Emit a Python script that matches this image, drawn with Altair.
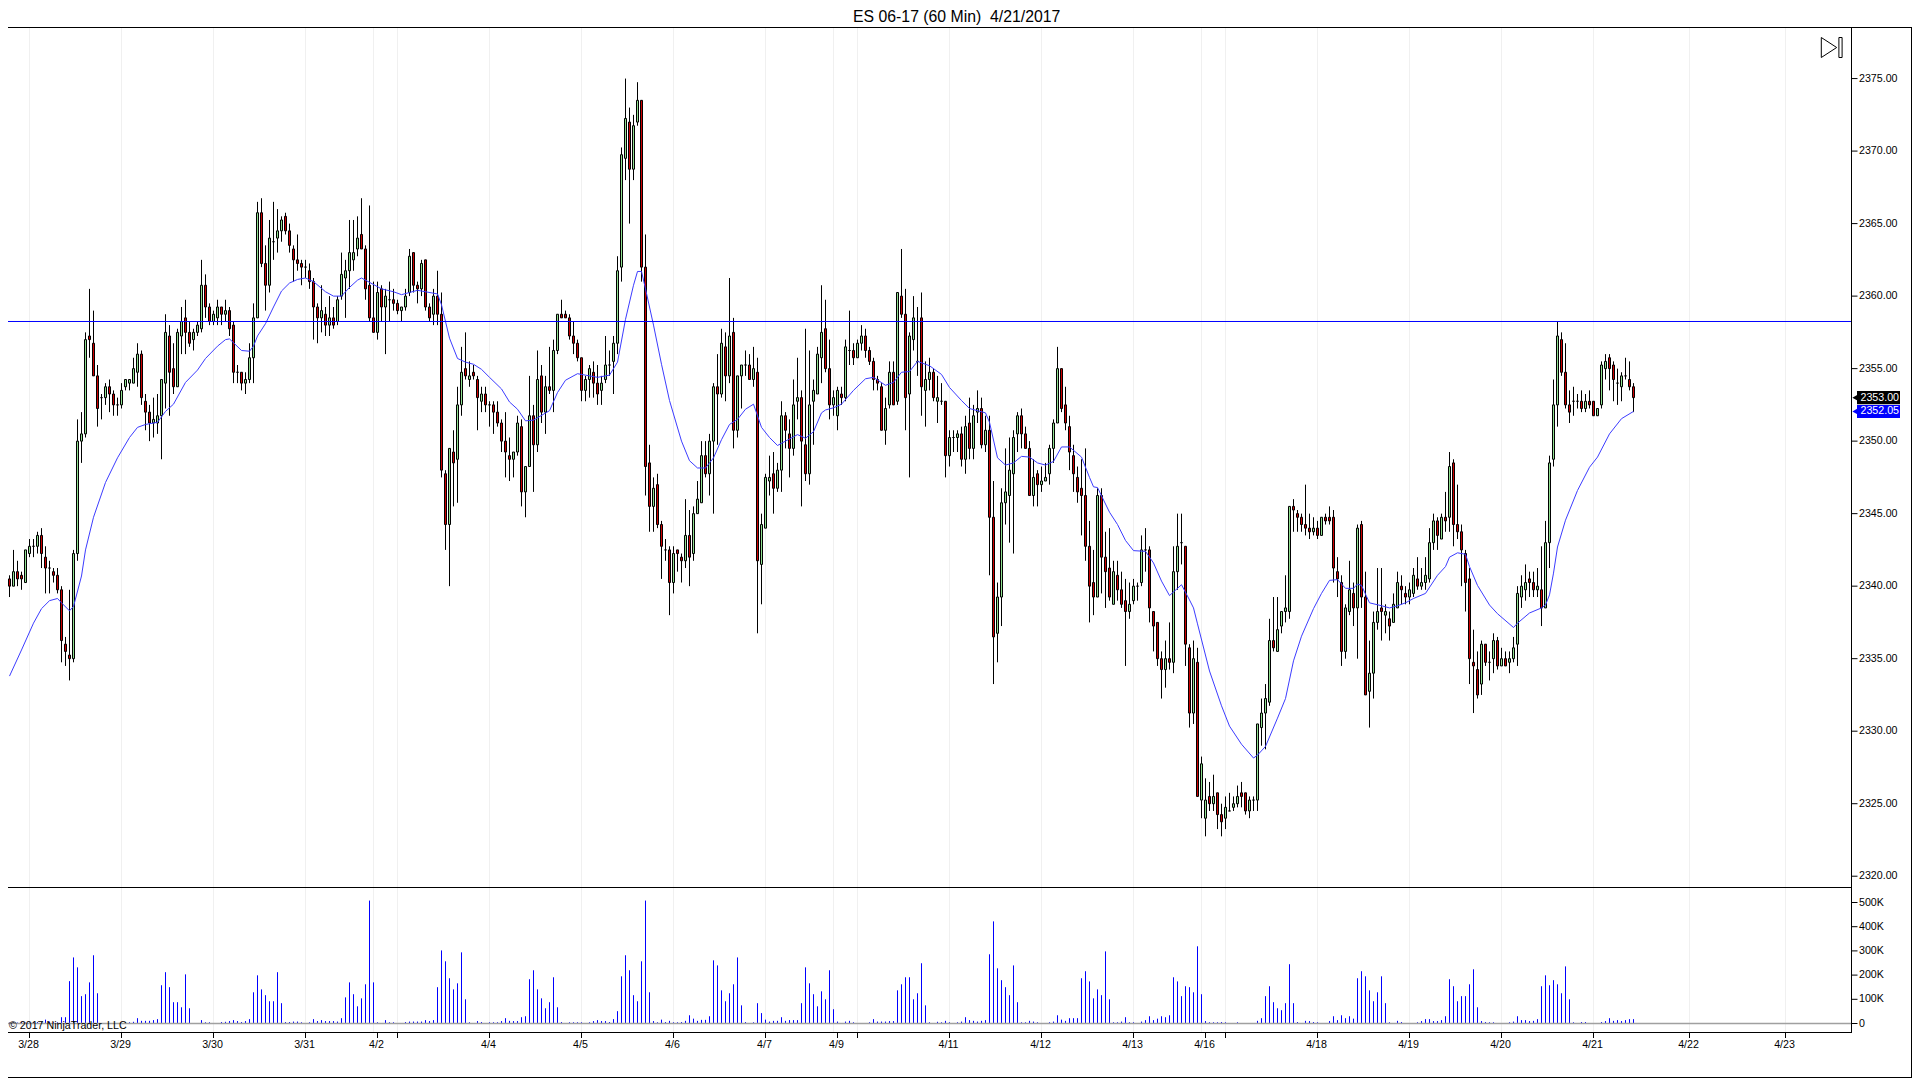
import altair as alt
import pandas as pd

title_text = "ES 06-17 (60 Min)\u00a0\u00a04/21/2017"
copyright_text = "\u00a9 2017 NinjaTrader, LLC"
level_line = [2358.25]
last_close = 2353.00
last_ma = 2352.05

highs = [
2340.75,2342.5,2341.75,2341,2342.5,2343.25,2343.25,2343.75,2344,2342.75,
2341.75,2341.25,2341.25,2340,2336.5,2339.75,2342.5,2351.5,2352,2357.5,
2360.5,2359,2355.25,2353.25,2354,2354.25,2353.5,2353,2354,2354.25,
2354.25,2355.75,2356.75,2356.25,2353.25,2352.5,2353,2353.25,2354.25,2358.75,
2358,2356.75,2357.75,2359.25,2359.75,2358.25,2357.75,2358.25,2362.5,2361.5,
2359.5,2359,2359.75,2359.25,2359.75,2359.25,2358.25,2355.25,2354.75,2354.75,
2356.75,2359.5,2366.5,2366.75,2363.5,2365.25,2366.5,2366,2365.5,2365.75,
2365,2363.5,2364.25,2362.5,2362.5,2362.25,2361.25,2359.5,2360.75,2359.25,
2360,2359.25,2360,2363,2362.5,2365.25,2365.25,2365.5,2366.75,2363.5,
2366.25,2361,2361,2360.75,2360.5,2361,2360.5,2359.75,2359.25,2360.5,
2363.25,2363,2361,2362.5,2362.5,2359.5,2360.5,2361.75,2360.25,2348,
2349.5,2350.75,2353.75,2356.5,2357.5,2355.5,2355.25,2354.5,2353.75,2353.75,
2352.75,2352.75,2352.75,2351.5,2352,2350.25,2349.25,2351.75,2351.5,2348.25,
2354.5,2352.5,2356.25,2355.25,2354.5,2356.5,2357,2358.75,2359.75,2359,
2358.75,2358.25,2357,2355.75,2354.5,2355.25,2355.5,2355.25,2354.5,2357.25,
2356.25,2357.25,2362.75,2370.25,2375,2373,2372.5,2374.75,2373.5,2364.25,
2349.75,2347.5,2347.75,2344.5,2343.25,2342.75,2342.75,2342.5,2342.25,2346,
2345.25,2345.5,2347.25,2350,2350,2350.5,2354,2356,2357.75,2357.5,
2361.25,2358.5,2354.5,2355.25,2356.25,2356,2356.5,2355.75,2345,2347.75,
2349,2349.25,2348.5,2352.75,2352,2351.5,2354.25,2355.75,2353.5,2357.75,
2356.25,2354.25,2356.5,2360.75,2359.75,2357,2353.5,2353.75,2353.75,2357,
2359,2356.75,2357,2358,2357.75,2356.5,2355.75,2354.5,2354,2353,
2355.5,2355.5,2360.25,2363.25,2360.5,2357.5,2360,2359.25,2360.25,2355.5,
2355.75,2355,2354.5,2354,2352.75,2350.75,2350.75,2350.75,2351,2351.75,
2353,2352.5,2353.5,2353,2351.75,2351.75,2347.25,2340.25,2346.75,2349.5,
2350.25,2350.75,2352,2352.25,2351,2350,2348.75,2348,2348.25,2348.5,
2349.75,2351.5,2356.5,2355,2353.75,2351.75,2349.75,2348.25,2348.75,2349.5,
2344.5,2342.5,2346.75,2346.75,2343.75,2344,2341.75,2341.75,2341,2340.5,
2340.25,2340.5,2340.25,2343.5,2344,2342.75,2338.25,2337.5,2335.5,2336.25,
2337.5,2342.75,2345,2345,2342.75,2336,2336.25,2335.75,2328.25,2326.75,
2326.5,2327,2325.75,2325,2325.5,2325.75,2325.5,2326.25,2326.5,2325.75,
2325.5,2325.5,2330.5,2332.25,2333.25,2337.75,2339.25,2339.25,2338.25,2340.75,
2345.5,2346,2345.25,2345,2347,2345,2344.75,2344.5,2344.75,2345,
2345.5,2345.25,2342,2340.75,2338.75,2341.75,2340.25,2344.25,2344.5,2341,
2336.25,2338.25,2341.25,2341.25,2338.75,2338.25,2339.5,2341,2340.75,2340,
2340.25,2341.25,2342,2341.25,2342,2344,2345,2344.75,2345,2346.5,
2349.25,2348.75,2347,2344.25,2342.5,2341.25,2337,2335.5,2336.25,2336,
2335.5,2336.75,2336.5,2335.75,2335.5,2335.5,2336.5,2340,2340.75,2341.5,
2341,2341,2341.25,2342.75,2344.5,2349,2354.25,2358.25,2357.5,2356.75,
2353.5,2353.75,2353.25,2353.5,2353.25,2353.5,2352.75,2352.25,2355.5,2356,
2356,2355.5,2355,2354.75,2355.75,2355.5,2354]

body_tops = [
2340.5,2341,2341,2340.75,2342.5,2342.75,2342.75,2343.5,2343.5,2342,
2341.25,2341,2340.75,2339.75,2336,2335.25,2342.25,2350,2350.5,2357,
2357.25,2356.75,2354.5,2353,2353.75,2353.75,2353.25,2352.5,2353.5,2354.25,
2354.25,2355,2356,2356,2352.75,2352,2351.5,2351.75,2354.25,2357.5,
2357.25,2355,2357.5,2358.25,2358.5,2357.5,2357.5,2358,2360.75,2360.75,
2359.25,2358.75,2359.25,2359.25,2359,2359,2358,2354.75,2354.75,2354.25,
2355.75,2358.5,2365.75,2365.75,2362.25,2364,2363.75,2364.5,2365.25,2365.5,
2364.5,2363.25,2362.5,2362.25,2362,2361.75,2361,2359.25,2359,2358.75,
2358.5,2358.5,2359.75,2361.5,2361.75,2363,2363,2364,2364.25,2363.25,
2360.75,2358.5,2360.25,2360.5,2360,2359.75,2359.75,2359.5,2359.25,2360,
2362.75,2363,2360.75,2362.25,2362.5,2359.25,2360,2360,2358.75,2347.75,
2349.5,2349.25,2352.5,2354.75,2355,2354.5,2354.75,2354.25,2353.25,2353.25,
2352.5,2352.5,2352,2351.25,2350,2349,2349.25,2351.25,2351,2348.25,
2351.75,2351.75,2354.25,2354.5,2353.75,2353.75,2356.25,2358.75,2358.75,2358.75,
2358.5,2357.25,2356.75,2355.75,2354.25,2355,2354.75,2354,2354,2355.25,
2355.25,2356.75,2361.75,2369.75,2372.25,2372,2371.75,2373.5,2373.5,2362,
2348.5,2346.75,2347,2344.25,2342.5,2342.5,2342.25,2342.5,2342,2343.5,
2343.5,2345,2346,2349,2349,2350,2353.75,2353.75,2356.75,2356.5,
2357.25,2357.5,2354.5,2355.25,2355.25,2355.25,2355,2354.75,2344.25,2347.5,
2347.5,2347.75,2348,2351.75,2351.75,2350.5,2352.5,2353,2353,2349.75,
2352.5,2353.5,2356,2357.5,2357.75,2355,2353,2353.5,2353.25,2356.5,
2356.25,2356.25,2356.75,2357.25,2357.25,2356.25,2355.5,2354.25,2353.75,2352.25,
2354.75,2354.75,2360.25,2360,2358.75,2357.25,2358.5,2355.5,2358.5,2354.25,
2354.75,2354.75,2353,2352.75,2352.75,2350.25,2350.25,2350.5,2350.5,2351,
2351.25,2351.75,2352.25,2352.25,2350.75,2350.75,2344.75,2339.25,2345.75,2346.5,
2348,2350.25,2351.75,2351.75,2350.5,2349.5,2347.5,2347.75,2347.25,2347.5,
2349.5,2351.25,2355,2355,2352.5,2351,2349,2347.5,2346.75,2346.25,
2342.75,2340.25,2346.25,2346.25,2342,2341.25,2341,2340.75,2339.75,2339,
2338.75,2340,2340,2342.5,2342.5,2342.5,2338.25,2337.5,2335,2335,
2335,2341,2342.75,2343,2342.75,2335.75,2335,2334.75,2327.75,2325.25,
2325.5,2325.5,2325.75,2324.25,2324.75,2324.5,2325,2325.5,2325.75,2325.75,
2325.25,2325.25,2330.5,2331.25,2332.25,2336.25,2336.25,2337,2338.25,2338.5,
2345.5,2345.5,2345,2344.75,2344.25,2344,2344,2344,2344.75,2344.75,
2344.75,2344.75,2341,2340.25,2338.5,2339.75,2339.5,2344,2344.25,2339.25,
2334,2337.5,2338.25,2338.5,2338.25,2337.75,2338.75,2340.25,2340,2339.5,
2339.75,2340.75,2340.5,2340.25,2340.75,2343,2344.5,2344.5,2344.75,2344.75,
2348.25,2348.5,2344.25,2343.75,2342.25,2340.5,2334.75,2334.25,2336,2336,
2334.75,2336.25,2336.25,2335,2335,2335,2335.75,2339.5,2340,2340.25,
2340.5,2340.25,2340,2339.75,2343,2348.5,2352.5,2357.25,2357,2354.75,
2352.5,2352.75,2352.75,2352.75,2352.75,2352.75,2352.75,2352.25,2355.25,2355.5,
2355.75,2355.25,2354,2354.5,2354.5,2354.25,2353.75]

body_bottoms = [
2340,2340,2340.5,2340.5,2340.25,2342.25,2342.75,2342.75,2342.25,2341.25,
2341.25,2340.75,2339.75,2336.25,2335.5,2335,2335,2342.25,2350,2350.5,
2357,2354.5,2352.25,2353,2353,2353.25,2352.5,2352.5,2352.5,2353.75,
2354,2354,2354.75,2353,2352,2351.25,2351.25,2351.25,2351.75,2354,
2354.75,2353.75,2353.75,2357.25,2357.5,2356.75,2357,2357.5,2357.75,2359.25,
2358.25,2358.25,2358.5,2358.75,2358.75,2357.75,2354.75,2354.75,2354,2354,
2354.25,2355.75,2358.5,2362.25,2360.75,2360.75,2363.75,2364,2364.5,2364.5,
2363.5,2362.5,2362.25,2362,2362,2361,2359.25,2358.5,2358.5,2358,
2358,2358,2358.25,2360,2361.25,2361.75,2362.5,2363.25,2363.25,2360.5,
2358.5,2357.5,2357.5,2359.25,2359.25,2359.75,2359.5,2359,2359,2359.25,
2360.25,2360.75,2360.5,2360.5,2359.25,2358.5,2358.75,2358.75,2348,2344.25,
2344.25,2348.5,2348.75,2352.5,2354.5,2354.25,2354.5,2353,2352.75,2352.5,
2352.5,2352,2351.25,2350,2349.25,2348.75,2348.75,2349.25,2346.5,2346.5,
2348.25,2349.75,2349.75,2352,2352,2353.5,2353.5,2356.25,2358.5,2358.5,
2357.25,2356.75,2355.75,2353.5,2353.5,2354.25,2354,2353.25,2353.5,2354.25,
2355.25,2355.5,2356.75,2362,2369.5,2368.75,2368.75,2372,2362,2348.25,
2345.5,2345.5,2344.25,2342.75,2342.5,2340.25,2340.25,2342.25,2341.75,2341.75,
2342,2342.25,2345,2345.75,2347.75,2347.75,2350,2353.25,2353.25,2354.5,
2354.5,2350.75,2350.75,2354.5,2355.25,2354.25,2354.25,2341.75,2341.5,2344,
2347.25,2346.75,2346.75,2348,2350.75,2349.5,2349.5,2352.75,2350,2347.75,
2347.75,2352.75,2353.25,2355.75,2355,2352.5,2352.5,2351.75,2353,2353,
2356.25,2355.75,2355.75,2356.75,2356.25,2355.5,2354.25,2354,2350.75,2350.75,
2352.5,2352.5,2352.75,2358.75,2353,2353.25,2357,2355.5,2353.75,2353.5,
2354.25,2353,2352.75,2352.75,2349,2349,2350.25,2350.25,2348.75,2348.75,
2349.5,2349.5,2352,2349.75,2349.75,2344.75,2336.5,2336.75,2339.25,2345.75,
2346.25,2347.75,2350.5,2350.5,2349.5,2346.25,2346.25,2347,2347,2347.25,
2347.75,2349.5,2351.25,2352.25,2351.25,2349.25,2347.75,2346.5,2346.25,2342.75,
2340,2339.25,2339.25,2342,2341,2339.25,2338.75,2339.75,2338.75,2338.25,
2338.25,2339,2340,2340.25,2342.5,2338.5,2337.25,2335,2334.25,2334.25,
2334.75,2334.75,2341,2343,2336,2331.25,2331.25,2325.5,2325.25,2324,
2325,2325,2324.25,2323.75,2324,2324.5,2324.75,2325,2325.5,2324.5,
2324.5,2325.25,2325.25,2330.25,2331.25,2332,2335.75,2335.5,2337.25,2338.25,
2338.25,2345.25,2344.75,2344.25,2344,2343.75,2343.75,2343.5,2343.5,2344.5,
2344.5,2341.25,2340.5,2335.5,2335.5,2338.25,2338.5,2338.5,2339.25,2332.5,
2332.75,2334,2337.5,2338.25,2338,2337.25,2337.5,2338.5,2339.75,2339.25,
2339.25,2339.5,2340,2340,2340.25,2340.5,2343,2343.5,2343.25,2344.5,
2344.75,2344.25,2343.75,2342.5,2340.25,2335,2334.5,2332.5,2333.25,2334.75,
2334.75,2335,2334.5,2334.5,2334.5,2334.75,2335,2336,2339.25,2339.75,
2340.25,2339.75,2339.75,2338.5,2338.5,2343,2348.75,2352.5,2354.75,2352.5,
2352,2352.75,2352.75,2352.25,2352.25,2352.5,2351.75,2351.75,2352.5,2355,
2355,2354.25,2354,2353.75,2354.5,2353.75,2353]

lows = [
2339.25,2340,2340,2339.75,2340.25,2342,2342,2342.25,2341.25,2339.5,
2339.5,2340.25,2339.5,2334.75,2334.5,2333.5,2334.75,2341.75,2348.5,2350.25,
2355.75,2354.5,2351,2351.5,2352.5,2352,2351.75,2351.75,2352.25,2353.5,
2353.5,2354,2353.75,2352.5,2350.75,2350,2350.25,2350.5,2348.75,2352.25,
2351.75,2353.25,2353.75,2356,2356,2356.5,2356.25,2357.25,2357.5,2358.5,
2358,2358,2358,2358,2358.25,2357.25,2354,2354,2353.5,2353.25,
2354,2354,2358.5,2362,2359,2360.25,2362.5,2363,2363.75,2364.25,
2363,2361,2361.75,2360.75,2361.25,2360.5,2357,2356.75,2357.5,2357.25,
2357.25,2357.75,2358,2359.75,2358.5,2360.5,2361.75,2362.75,2363.25,2359.75,
2358.25,2357.5,2357,2358.25,2356,2358.25,2359,2358.75,2358.25,2359,
2360,2360.25,2359.5,2360,2359,2358.25,2358,2358,2347.5,2342.5,
2340,2345.5,2345.75,2351.75,2354.25,2353.75,2354.25,2350.75,2352,2352,
2351,2350.5,2351,2349.25,2347.5,2347.25,2347.5,2349,2345.5,2344.75,
2348.25,2346.5,2349.25,2351.25,2350.5,2353.25,2352,2356,2358.5,2358.5,
2357,2356,2355.5,2352.75,2352.75,2353,2353,2352.5,2352.5,2354,
2354.5,2353.25,2356,2361,2368,2365,2368,2371.75,2361,2346.25,
2343.75,2343.75,2344,2340.5,2341.75,2338,2339.5,2341,2340.25,2341.25,
2340,2341.75,2345,2345.75,2347.5,2346.25,2345,2349.75,2353,2352.75,
2354,2349.5,2350.25,2352.25,2354.5,2354.25,2353.75,2336.75,2338.75,2344,
2346.25,2345,2346.5,2346.5,2349.5,2347.5,2349,2351.5,2345.5,2347.25,
2347,2349.75,2353.25,2354,2354.75,2351.5,2351.75,2350.75,2352.5,2352.75,
2355.25,2355.25,2355.75,2356.25,2355.75,2355.25,2353.5,2353.5,2350.75,2349.75,
2352.25,2352.5,2352.5,2358.5,2350.75,2347.5,2356.25,2354.5,2351.75,2351,
2353.5,2352.75,2351.25,2352.5,2347.5,2348.25,2349.25,2349.25,2348.25,2347.75,
2348.75,2348.75,2351.25,2349.5,2349.25,2340.75,2333.25,2334.75,2337.25,2344.25,
2343,2342.25,2349.25,2349.5,2349.5,2346.25,2345.5,2345.5,2346.5,2347.25,
2347,2348.5,2351.25,2352,2350.75,2348,2346.5,2345.75,2343.5,2341.75,
2337.5,2338,2339.25,2339.5,2338.5,2339,2338.75,2339,2338.5,2334.5,
2337.75,2338.75,2339,2340,2341,2337.5,2335.5,2334.5,2332.25,2333,
2334.25,2334,2339.75,2341.5,2334.5,2330.25,2330.5,2325.5,2324,2322.75,
2324.5,2324.5,2323.25,2322.75,2323.25,2324.5,2324.5,2324.75,2324.75,2324.25,
2324,2324.5,2324.5,2329,2328.75,2331.75,2335.5,2335.5,2336.75,2337.5,
2337.75,2343.75,2343.75,2343.75,2343.5,2343.25,2343.5,2343.25,2343.5,2344.25,
2344.25,2340.25,2339.25,2334.5,2335,2338,2337.25,2335,2338.5,2332.5,
2330.25,2332.25,2337,2336.25,2336.75,2336.25,2337.5,2338.5,2338.75,2338.75,
2338.75,2339.25,2339.75,2339.75,2339.75,2340.25,2342.5,2342.5,2343.25,2343.75,
2343.75,2342.75,2343.25,2340,2338.25,2333.25,2331.25,2332.25,2332.5,2334.5,
2333.5,2334,2334.25,2334.5,2334.5,2334,2334.75,2334.5,2338.5,2339,
2339.25,2339.25,2339.25,2337.25,2338.5,2341.25,2348.25,2351,2354.5,2352.25,
2351.25,2351.75,2352.25,2352,2352,2352.25,2351.75,2351.75,2352.25,2354.25,
2353.5,2352.75,2352.5,2352.75,2354.25,2353.5,2352]

directions = (
"RGRRGGGGRR" "GRRRRRGGGG" "RRRGGRRGGG" "GGGRRRGGGG" "RRGGRRGGGR" "RGGRGRRGRG"
"GGGRRGGGGR" "RRRRGRRRGR" "GRGGGGGGRR" "RRGRGGRRGG" "GRRGRRGRRR" "GRGGRGRRGR"
"GRRRRRGGRG" "GRGRGRGGRR" "RRRRGGRRGG" "GGGGGRGGRR" "RGRRGRGRRG" "RGGGRGGRGR"
"GRGGGRGRGG" "GRGGRRGGRR" "GGGGRRGGRG" "GRGGRRRRRG" "GRGRRGGGRG" "GRGGRGGGRG"
"RGGRGRRGGG" "GGGRRRGRGG" "GGGRRRRRRR" "RRGRRRGRRR" "GGGGGRRRRG" "RGGGRRGRGG"
"RGRRGGGGRR" "GGGGGGRGGG" "GRRRRRGRGR" "RRRRGGRGRR" "GGGRGRGGRR" "GGRGGGGRGR"
"GRRRRRRRGR" "GGRGRGGGGG" "RRGRGGGGRR" "RGGRGRRGGG" "RRGGGRR"
)

volumes_k = [
4,4,4,5,4,4,5,6,5,16,
8,5,5,26,26,175,273,232,113,121,
170,282,125,0,0,0,0,0,0,0,
5,7,22,11,11,11,14,18,158,212,
150,88,88,67,203,63,0,0,14,5,
5,0,0,6,7,10,14,10,6,10,
18,129,199,141,117,92,92,212,84,6,
6,8,8,5,0,5,18,10,14,10,
10,10,8,22,108,170,121,71,104,162,
508,170,5,0,14,5,5,0,0,6,
8,8,8,8,14,10,14,150,302,257,
187,141,166,294,100,5,0,10,6,0,
5,5,5,10,22,11,10,10,26,30,
183,220,141,104,63,88,191,67,6,0,
5,5,5,5,0,5,10,14,10,10,
6,18,51,195,282,220,117,92,257,508,
129,10,5,16,6,11,5,5,6,11,
34,20,11,15,15,30,261,240,137,92,
125,162,273,75,6,0,5,84,43,16,
8,11,11,26,11,14,14,14,84,232,
166,121,71,133,100,220,59,8,0,8,
11,5,0,0,0,5,18,8,8,8,
10,10,137,162,191,191,100,125,249,75,
5,0,7,5,11,5,0,5,8,26,
14,11,8,11,14,286,422,228,179,150,
117,240,88,5,5,11,8,5,0,0,
5,8,34,16,11,22,22,22,187,216,
174,104,141,117,298,100,5,5,8,26,
5,5,0,8,14,30,14,20,30,26,
34,191,174,113,154,150,129,319,121,10,
5,5,5,6,5,0,0,5,0,0,
0,0,11,22,113,154,88,63,55,84,
245,84,6,0,11,10,6,5,0,0,
10,30,14,34,22,30,20,187,216,195,
137,92,129,195,84,5,0,11,6,0,
0,0,5,10,18,18,10,10,14,30,
183,154,92,113,113,162,224,67,10,6,
5,5,0,0,0,5,8,30,14,14,
10,11,18,154,199,158,179,162,125,236,
100,5,0,6,6,0,0,0,6,10,
22,11,14,10,14,18,18]

ma_bars = [
0,3,6,8,10,12,13,15,16,18,19,21,24,27,30,32,34,37,39,41,44,47,49,52,54,55,58,60,61,62,
64,66,68,70,72,74,76,79,81,83,85,87,88,90,93,96,98,100,102,104,107,108,110,112,114,116,118,
120,123,125,127,129,131,135,137,139,142,144,147,150,152,154,156,157,158,159,161,163,165,168,
170,172,174,176,178,180,182,184,186,188,190,192,194,197,199,201,203,204,206,208,211,214,216,
219,221,223,225,227,230,233,235,238,240,244,245,247,249,251,253,255,257,259,261,263,265,268,
270,271,272,275,277,279,281,284,286,288,290,293,295,296,297,300,303,305,308,311,312,314,317,
319,321,323,326,328,330,332,334,336,337,338,340,343,345,347,349,351,354,357,359,360,362,364,
365,367,370,372,376,377,380,383,384,385,386,387,389,392,395,397,400,403,406]
ma_values = [
2333.8,2335.6,2337.45,2338.45,2339,2339.15,2338.85,2338.3,2338.6,2340.7,2342.5,2344.75,2347.15,
2348.85,2350.25,2350.95,2351.15,2351.3,2352.05,2352.55,2354.05,2354.9,2355.7,2356.55,2357,2357.05,
2356.25,2356.2,2356.55,2357.25,2358.1,2359.25,2360.35,2360.9,2361.15,2361.25,2361,2360.3,2360,2360,
2360.6,2361.1,2361.25,2360.95,2360.5,2360.3,2360.1,2360.25,2360.4,2360.3,2360.15,2359.4,2357.1,
2355.7,2355.45,2355.3,2354.95,
2354.4,2353.6,2352.7,2352.2,2351.4,2351.45,2352.1,2353.35,2354.2,2354.65,2354.55,2354.4,2354.55,
2355.45,2358.4,2360.75,2361.7,2361.7,2360.5,2358,2355.3,2352.8,2350,
2348.65,2348.15,2348.15,2348.85,2350.1,2351.15,2351.5,2352.2,2352.55,2350.95,2350.25,2349.7,2350,
2350.45,2350.2,2350.65,2351.95,2352.15,2352.3,2352.55,2353.5,2354.3,2354.4,
2353.85,2354.05,2354.75,2354.8,2355.5,2355.2,2354.6,2353.7,2352.8,2352.25,2351.95,2351.3,2348.85,
2348.35,2348.5,2348.95,2348.9,2348.5,2348.35,2348.6,2349.6,2349.6,2348.9,
2347.5,2346.85,2346.8,2345.1,2344.25,2343.15,2342.45,2342.4,2341.6,2340.35,2339.35,2340.1,2339.05,
2338.5,2337.4,2334.15,2331.75,2330.35,2329.1,2328.15,2328.35,2328.95,2330.9,
2332.25,2334.85,2336.55,2338.45,2339.5,2340.4,2340.45,2339.85,2339.85,2340.15,2340.05,2338.85,
2338.65,2338.5,2338.65,2338.85,2339.15,2339.5,2340.75,2341.35,2342,2342.3,2342.2,
2341.35,2340.05,2338.7,2338.1,2337.15,2337.45,2338.15,2338.5,2338.7,2339.4,2340.9,2342.7,2344.55,
2346.6,2348.2,2348.9,2350.5,2351.55,2352.05]

tick_bars = [5,28,51,74,92,97,120,143,166,189,207,212,235,258,281,299,304,327,350,373,396,420,444]
tick_labels = ["3/28","3/29","3/30","3/31","4/2","","4/4","4/5","4/6","4/7","4/9","","4/11","4/12",
               "4/13","4/16","","4/18","4/19","4/20","4/21","4/22","4/23"]
grid_bars = [5,28,51,74,91,97,120,143,166,189,206,212,235,258,281,298,304,327,350,373,396,420,444]
price_ticks = [2320,2325,2330,2335,2340,2345,2350,2355,2360,2365,2370,2375]
volume_ticks = [0,100,200,300,400,500]
volume_tick_labels = ["0","100K","200K","300K","400K","500K"]

FONT = "Liberation Sans"
UP, DOWN, VOLBLUE = "#90e090", "#cc0000", "#0000ff"

candles = pd.DataFrame({"bar": range(len(highs)), "high": highs, "low": lows,
                        "top": body_tops, "bottom": body_bottoms, "dir": list(directions), "vol": volumes_k})
candles["zero"] = 0
ma = pd.DataFrame({"bar": ma_bars, "ma": ma_values})
grid = pd.DataFrame({"bar": grid_bars})
xticks = pd.DataFrame({"bar": tick_bars, "label": tick_labels})
pticks = pd.DataFrame({"p": price_ticks, "label": [f"{v:.2f}" for v in price_ticks]})
vticks = pd.DataFrame({"v": volume_ticks, "label": volume_tick_labels})
one = pd.DataFrame({"a": [0]})

W, H = 1844, 1005
PRICE_H, V0, V500 = 860, 996.5, 875.5
xscale = alt.Scale(domain=[-0.375, 460.625], nice=False, zero=False, padding=0)
pscale = alt.Scale(domain=[2319.2564, 2378.5564], range=[PRICE_H, 0], nice=False, zero=False)
vscale = alt.Scale(domain=[0, 500], range=[V0, V500], nice=False, zero=False)
X = alt.X("bar:Q", scale=xscale, axis=None)


def P(field):
    return alt.Y(field, type="quantitative", scale=pscale, axis=None)


def V(field):
    return alt.Y(field, type="quantitative", scale=vscale, axis=None)


def line(x, x2, y, y2, color="black"):
    return alt.Chart(one).mark_rule(color=color, strokeWidth=1).encode(
        x=alt.value(x), x2=alt.value(x2), y=alt.value(y), y2=alt.value(y2))


grid_layer = alt.Chart(grid).mark_rule(color="#f0f0f0", strokeWidth=1).encode(x=X)
wicks = alt.Chart(candles).mark_rule(color="black", strokeWidth=1).encode(x=X, y=P("high"), y2="low:Q")
bodies = alt.Chart(candles).mark_bar(width=2, stroke="black", strokeWidth=1).encode(
    x=X, y=P("top"), y2="bottom:Q",
    fill=alt.Fill("dir:N", scale=alt.Scale(domain=["G", "R"], range=[UP, DOWN]), legend=None))
ma_line = alt.Chart(ma).mark_line(color="#3c3cff", strokeWidth=1).encode(x=X, y=P("ma"))
level = alt.Chart(pd.DataFrame({"p": level_line})).mark_rule(color="#0000ff", strokeWidth=1).encode(y=P("p"))

price_tick_marks = alt.Chart(pticks).mark_rule(color="black", strokeWidth=1).encode(
    x=alt.value(W), x2=alt.value(W + 5.5), y=P("p"))
price_tick_text = alt.Chart(pticks).mark_text(
    font=FONT, fontSize=10.67, color="black", align="left", baseline="middle").encode(
    x=alt.value(W + 7), y=P("p"), text="label:N")


def tag(price, color):
    df = pd.DataFrame({"p": [price], "t": [f"{price:.2f}"], "hi": [price + 0.45], "lo": [price - 0.45]})
    rect = alt.Chart(df).mark_rect(color=color).encode(
        x=alt.value(1849), x2=alt.value(1892), y=P("hi"), y2="lo:Q")
    tip = alt.Chart(df).mark_point(shape="triangle-left", filled=True, size=70, opacity=1, color=color).encode(
        x=alt.value(1848), y=P("p"))
    text = alt.Chart(df).mark_text(font=FONT, fontSize=10.67, color="white", align="right", baseline="middle").encode(
        x=alt.value(1891), y=P("p"), text="t:N")
    return [rect, tip, text]


price_group = alt.layer(grid_layer, wicks, bodies, ma_line, level, price_tick_marks, price_tick_text,
                        *tag(last_close, "#000000"), *tag(last_ma, "#0000ff"))

vol_rules = alt.Chart(candles).transform_filter("datum.vol > 0").mark_rule(
    color=VOLBLUE, strokeWidth=1).encode(x=X, y=V("vol"), y2="zero:Q")
zero_rule = alt.Chart(pd.DataFrame({"v": [0]})).mark_rule(color="#a0a0a0", strokeWidth=1.5).encode(y=V("v"))
vol_tick_marks = alt.Chart(vticks).mark_rule(color="black", strokeWidth=1).encode(
    x=alt.value(W), x2=alt.value(W + 5.5), y=V("v"))
vol_tick_text = alt.Chart(vticks).mark_text(
    font=FONT, fontSize=10.67, color="black", align="left", baseline="middle").encode(
    x=alt.value(W + 7), y=V("v"), text="label:N")
vol_group = alt.layer(vol_rules, zero_rule, vol_tick_marks, vol_tick_text)

x_tick_marks = alt.Chart(xticks).mark_rule(color="black", strokeWidth=1).encode(
    x=X, y=alt.value(H), y2=alt.value(H + 6))
x_tick_text = alt.Chart(xticks[xticks.label != ""]).mark_text(
    font=FONT, fontSize=10.67, color="black", align="center", baseline="middle", dx=-1).encode(
    x=X, y=alt.value(H + 13), text="label:N")

title_mark = alt.Chart(pd.DataFrame({"t": [title_text]})).mark_text(
    font=FONT, fontSize=15.8, color="black", align="center", baseline="middle").encode(
    x=alt.value(948.7), y=alt.value(-10), text="t:N")
copyright_mark = alt.Chart(pd.DataFrame({"t": [copyright_text]})).mark_text(
    font=FONT, fontSize=10.67, color="black", align="left", baseline="middle").encode(
    x=alt.value(1), y=alt.value(999), text="t:N")

tri = alt.Chart(one).mark_point(shape="M-0.77,-1L0.77,0L-0.77,1Z", size=400, filled=False, stroke="black",
                                strokeWidth=1, opacity=1).encode(x=alt.value(1821), y=alt.value(20.5))
bar_icon = alt.Chart(one).mark_point(shape="M-0.16,-1L0.16,-1L0.16,1L-0.16,1Z", size=400, filled=False, stroke="black",
                                     strokeWidth=1, opacity=1).encode(x=alt.value(1832.5), y=alt.value(20.5))

frame = [
    line(0, 1904, 0.5, 0.5),
    line(0, W, PRICE_H + 0.5, PRICE_H + 0.5),
    line(0, W, H + 0.5, H + 0.5),
    line(W - 0.5, W - 0.5, 0, H),
    line(0, 1904, 1050.5, 1050.5),
    line(1903.5, 1903.5, 0, 1050),
]

chart = alt.layer(
    alt.layer(price_group, vol_group).resolve_scale(y="independent"),
    x_tick_marks, x_tick_text, copyright_mark, title_mark, tri, bar_icon, *frame,
).properties(
    width=W, height=H,
    padding={"left": 0, "top": 19, "right": 60, "bottom": 46},
    autosize=alt.AutoSizeParams(type="none", contains="content"),
    background="white",
).configure_view(stroke=None)

chart.save("out.html", embed_options={"renderer": "svg", "actions": False})
